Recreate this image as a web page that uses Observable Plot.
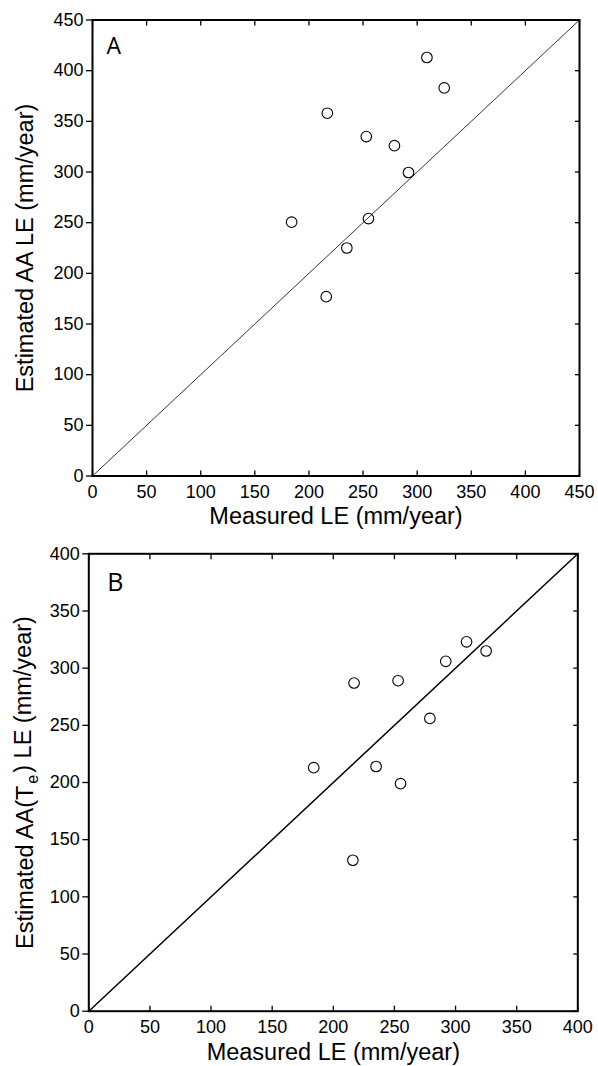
<!DOCTYPE html>
<html><head><meta charset="utf-8">
<script src="https://cdn.jsdelivr.net/npm/d3@7"></script>
<script src="https://cdn.jsdelivr.net/npm/@observablehq/plot@0.6"></script>
<style>html,body{margin:0;padding:0;background:#fff;} svg{display:block;}</style>
</head><body><div id="chart"></div>
<script>
// Data
const measuredLE    = [184, 216, 217, 235, 253, 255, 279, 292, 309, 325];
const estimatedAA   = [250.5, 177, 358, 225, 335, 254, 326, 299.5, 413, 383];
const estimatedAATe = [213, 132, 287, 214, 289, 199, 256, 306, 323, 315];
const ticksA = [0, 50, 100, 150, 200, 250, 300, 350, 400, 450];
const ticksB = [0, 50, 100, 150, 200, 250, 300, 350, 400];
const lineA = [0, 450];
const lineB = [0, 400];
const xLabel = "Measured LE (mm/year)";
const yLabelA = "Estimated AA LE (mm/year)";
const yLabelB = "Estimated AA(Te) LE (mm/year)";
const panelA = "A";
const panelB = "B";

const FONT = "'Liberation Sans', Arial, Helvetica, sans-serif";

function panel({xs, ys, ticks, diag, yLabel, tag, height, mt, mb, ml, mr, diagW, ylDx, xlDy, tagDx, tagDy, tagSize}) {
  const pts = xs.map((x, i) => ({x, y: ys[i]}));
  const dom = [ticks[0], ticks[ticks.length - 1]];
  return Plot.plot({
    width: 598, height,
    marginTop: mt, marginBottom: mb, marginLeft: ml, marginRight: mr,
    style: {fontFamily: FONT, fontSize: "17.5px", color: "#000", background: "#fff"},
    x: {domain: dom, axis: null},
    y: {domain: dom, axis: null},
    marks: [
      Plot.line(diag, {x: d => d, y: d => d, stroke: "#000", strokeWidth: diagW}),
      Plot.dot(pts, {x: "x", y: "y", r: 5.3, stroke: "#000", strokeWidth: 1.1, fill: "none"}),
      Plot.axisX({anchor: "bottom", ticks, tickSize: -5, tickPadding: 14.5, label: null, fontSize: 18, strokeWidth: 1.3}),
      Plot.axisX({anchor: "top", ticks, tickSize: -5, fill: "none", label: null, strokeWidth: 1.3}),
      Plot.axisY({anchor: "left", ticks, tickSize: 6, tickPadding: 3, label: null, fontSize: 18, strokeWidth: 1.3}),
      Plot.axisY({anchor: "right", ticks, tickSize: -5, fill: "none", label: null, strokeWidth: 1.3}),
      Plot.frame({stroke: "#000", strokeWidth: 2}),
      Plot.text([xLabel], {frameAnchor: "bottom", dy: xlDy, lineAnchor: "middle", textAnchor: "middle", fontSize: 23.5, fill: "#000"}),
      Plot.text([yLabel], {frameAnchor: "left", rotate: -90, dx: ylDx, lineAnchor: "middle", textAnchor: "middle", fontSize: 23.5, fill: "#000"}),
      Plot.text([tag], {frameAnchor: "top-left", dx: tagDx, dy: tagDy, textAnchor: "start", lineAnchor: "top", fontSize: tagSize, fontFamily: "'Open Sans', 'Noto Sans', sans-serif", fill: "#000"})
    ]
  });
}

const svgA = panel({xs: measuredLE, ys: estimatedAA, ticks: ticksA, diag: lineA, yLabel: yLabelA, tag: panelA,
  height: 535, mt: 19.5, mb: 59.5, ml: 92, mr: 19, diagW: 0.8, ylDx: -67, xlDy: 40, tagDx: 14, tagDy: 18, tagSize: 23});
const svgB = panel({xs: measuredLE, ys: estimatedAATe, ticks: ticksB, diag: lineB, yLabel: yLabelB, tag: panelB,
  height: 531, mt: 18.3, mb: 55.3, ml: 88.3, mr: 20.7, diagW: 1.5, ylDx: -63.3, xlDy: 41, tagDx: 18.5, tagDy: 19, tagSize: 25});

document.getElementById("chart").append(svgA, svgB);

// subscript "e" in panel B's y label
d3.select(svgB).selectAll("text").each(function () {
  if (this.textContent === yLabelB) {
    const t = d3.select(this);
    t.text(null);
    t.append("tspan").text("Estimated AA(T");
    t.append("tspan").attr("dy", "0.3em").attr("dx", "2").attr("font-size", "16").text("e");
    t.append("tspan").attr("dy", "-0.3em").attr("dx", "2").text(") LE (mm/year)");
  }
});
</script>
</body></html>
